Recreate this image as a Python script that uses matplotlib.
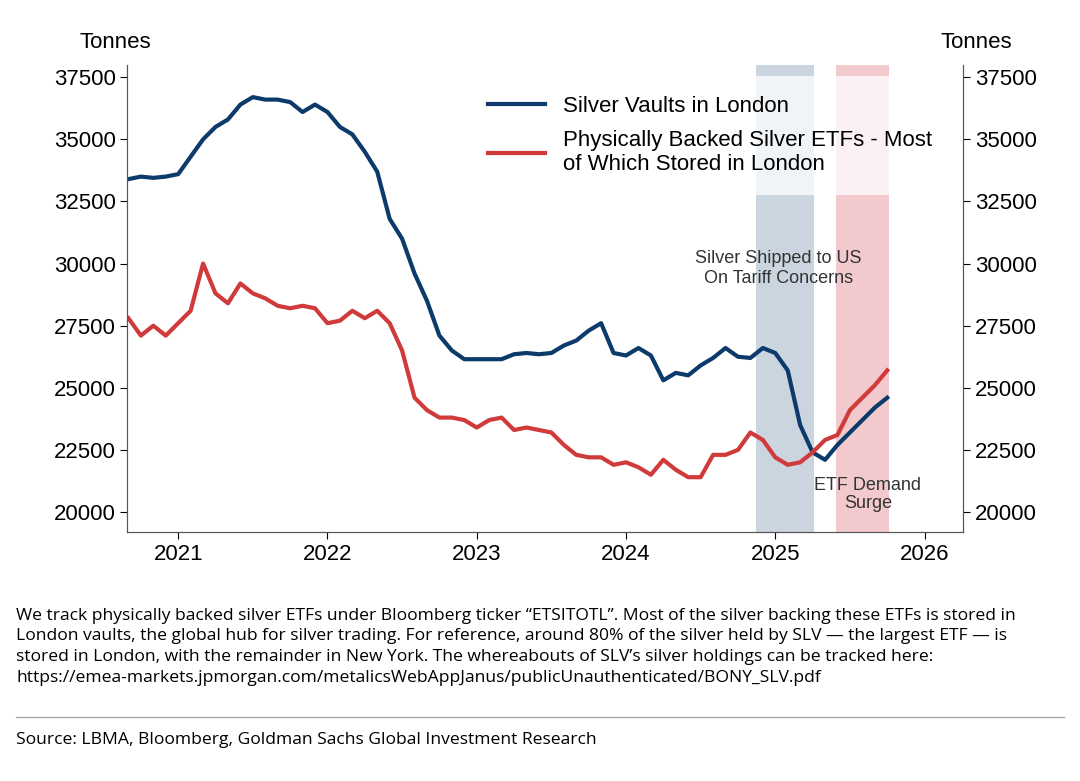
import matplotlib
matplotlib.use("Agg")
import matplotlib.pyplot as plt
import numpy as np

plt.rcParams['font.family'] = ['Liberation Sans', 'DejaVu Sans']

# monthly, Sep 2020 .. Oct 2025
start_year = 2020 + 8 / 12
vaults = [33400, 33500, 33450, 33500,
          33600, 34300, 35000, 35500, 35800, 36400, 36700, 36600, 36600, 36500, 36100, 36400,
          36100, 35500, 35200, 34500, 33700, 31800, 31000, 29600, 28500, 27100, 26500, 26150,
          26150, 26150, 26150, 26350, 26400, 26350, 26400, 26700, 26900, 27300, 27600, 26400,
          26300, 26600, 26300, 25300, 25600, 25500, 25900, 26200, 26600, 26250, 26200, 26600,
          26400, 25700, 23500, 22400, 22100, 22700, 23200, 23700, 24200, 24600]
etfs = [27800, 27100, 27500, 27100,
        27600, 28100, 30000, 28800, 28400, 29200, 28800, 28600, 28300, 28200, 28300, 28200,
        27600, 27700, 28100, 27800, 28100, 27600, 26500, 24600, 24100, 23800, 23800, 23700,
        23400, 23700, 23800, 23300, 23400, 23300, 23200, 22700, 22300, 22200, 22200, 21900,
        22000, 21800, 21500, 22100, 21700, 21400, 21400, 22300, 22300, 22500, 23200, 22900,
        22200, 21900, 22000, 22400, 22900, 23100, 24100, 24600, 25100, 25700]
dates = start_year + np.arange(len(vaults)) / 12

fig = plt.figure(figsize=(10.8, 7.81), dpi=100)
ax = fig.add_axes([0.118, 0.319, 0.774, 0.598])

ax.axvspan(2024.87, 2025.26, color='#9fb3c8', alpha=0.55, lw=0)
ax.axvspan(2025.41, 2025.76, color='#e8a0a4', alpha=0.55, lw=0)
ax.plot(dates, vaults, color='#0c3a6b', lw=3, label='Silver Vaults in London')
ax.plot(dates, etfs, color='#d03a3a', lw=3,
        label='Physically Backed Silver ETFs - Most\nof Which Stored in London')

ax.set_xlim(2020.66, 2026.26)
ax.set_ylim(19200, 38000)
yt = np.arange(20000, 37501, 2500)
ax.set_yticks(yt)
ax.set_xticks(range(2021, 2027))
ax.tick_params(labelsize=16, length=5, direction='out')
ax.spines['top'].set_visible(False)
ax2 = ax.twinx()
ax2.set_ylim(ax.get_ylim())
ax2.set_yticks(yt)
ax2.tick_params(labelsize=16, length=5)
ax2.spines['top'].set_visible(False)
for a in (ax, ax2):
    for s in a.spines.values():
        s.set_color('#555555')

ax.text(-0.015, 1.035, 'Tonnes', transform=ax.transAxes, ha='center', fontsize=16)
ax.text(1.015, 1.035, 'Tonnes', transform=ax.transAxes, ha='center', fontsize=16)

ax.text(2025.02, 29800, 'Silver Shipped to US\nOn Tariff Concerns', ha='center',
        va='center', fontsize=13, color='#333333')
ax.text(2025.62, 20700, 'ETF Demand\nSurge', ha='center', va='center', fontsize=13,
        color='#333333', linespacing=1.1)

leg = ax.legend(loc='upper right', bbox_to_anchor=(1.0, 1.0), fontsize=16, frameon=True,
                framealpha=0.75, edgecolor='none', fancybox=False, handlelength=2.6,
                borderpad=0.9, labelspacing=0.6, handletextpad=0.8)

foot = ("We track physically backed silver ETFs under Bloomberg ticker \u201cETSITOTL\u201d. Most of the silver backing these ETFs is stored in\n"
        "London vaults, the global hub for silver trading. For reference, around 80% of the silver held by SLV \u2014 the largest ETF \u2014 is\n"
        "stored in London, with the remainder in New York. The whereabouts of SLV\u2019s silver holdings can be tracked here:\n"
        "https://emea-markets.jpmorgan.com/metalicsWebAppJanus/publicUnauthenticated/BONY_SLV.pdf")
fig.text(0.015, 0.222, foot, fontsize=12.6, family=['Open Sans', 'DejaVu Sans'], va='top',
         linespacing=1.4)
fig.add_artist(plt.Line2D([0.015, 0.985], [0.082, 0.082], color='#aaaaaa', lw=1))
fig.text(0.015, 0.052, 'Source: LBMA, Bloomberg, Goldman Sachs Global Investment Research',
         fontsize=12.6, family=['Open Sans', 'DejaVu Sans'], va='center')

fig.savefig('out.png', dpi=100)
